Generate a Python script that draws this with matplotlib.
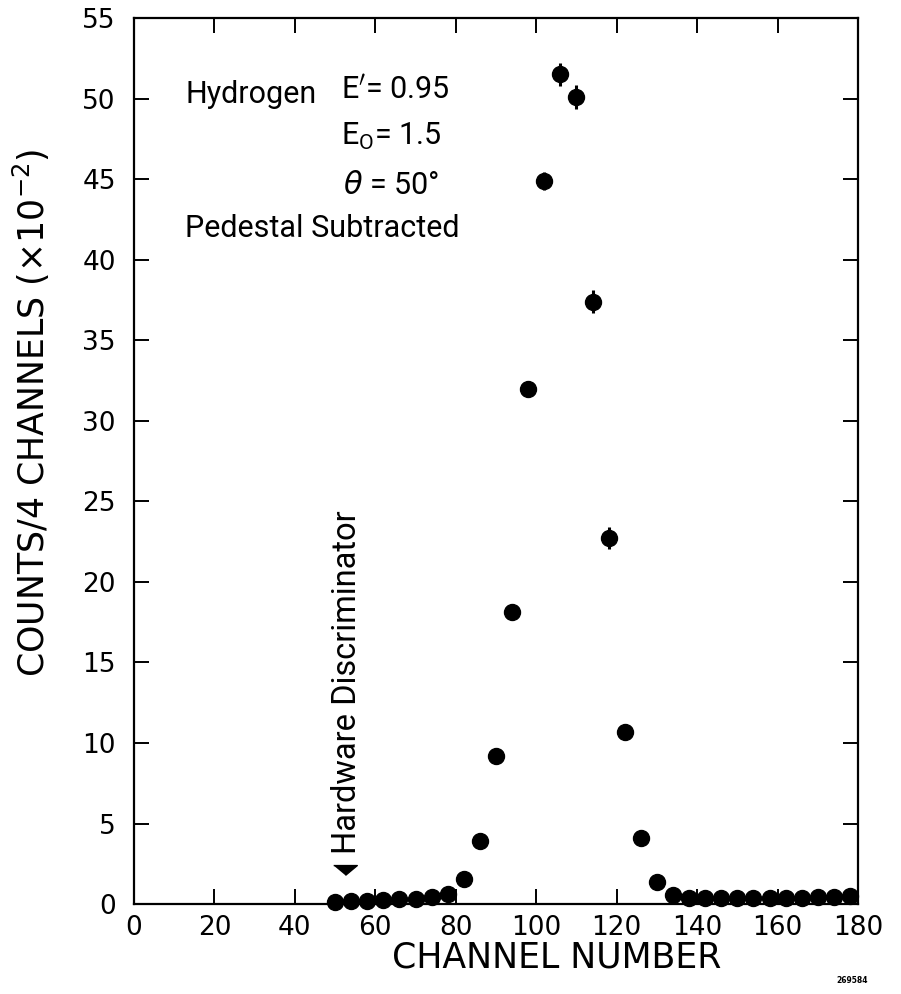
import numpy as np
import matplotlib
matplotlib.use('Agg')
import matplotlib.pyplot as plt

# counts per 4 channels (x 10^-2)
channel = [50, 54, 58, 62, 66, 70, 74, 78, 82, 86, 90, 94, 98, 102, 106, 110,
           114, 118, 122, 126, 130, 134, 138, 142, 146, 150, 154, 158, 162,
           166, 170, 174, 178]
counts = [0.15, 0.2, 0.2, 0.25, 0.3, 0.3, 0.45, 0.65, 1.55, 3.9, 9.2, 18.1,
          32.0, 44.9, 51.5, 50.1, 37.4, 22.7, 10.7, 4.1, 1.35, 0.55, 0.35,
          0.35, 0.35, 0.35, 0.35, 0.35, 0.4, 0.4, 0.45, 0.45, 0.5]
errors = [0.05, 0.05, 0.05, 0.05, 0.05, 0.05, 0.05, 0.1, 0.1, 0.2, 0.3, 0.4,
          0.45, 0.55, 0.72, 0.72, 0.7, 0.68, 0.35, 0.2, 0.1, 0.05, 0.05,
          0.05, 0.05, 0.05, 0.05, 0.05, 0.05, 0.05, 0.05, 0.05, 0.05]

xticks = np.arange(0, 181, 20)
yticks = np.arange(0, 56, 5)

lbl = ['Roboto', 'DejaVu Sans']

plt.rcParams['font.family'] = ['DejaVu Sans']
plt.rcParams['mathtext.fontset'] = 'dejavusans'

fig = plt.figure(figsize=(9.01, 9.94), dpi=100)
ax = fig.add_axes([0.1487, 0.0905, 0.8036, 0.8913])

ax.errorbar(channel, counts, yerr=errors, fmt='o', color='k', ms=11.5,
            elinewidth=2.2, capsize=0, zorder=3, clip_on=False)

ax.set_xlim(0, 180)
ax.set_ylim(0, 55)
ax.set_xticks(xticks)
ax.set_yticks(yticks)
ax.tick_params(direction='in', length=11, width=1.4, top=True, right=True,
               labelsize=19)
ax.tick_params(axis='x', pad=8)
ax.tick_params(axis='y', pad=13)
for s in ax.spines.values():
    s.set_linewidth(1.6)

ax.set_xlabel('CHANNEL NUMBER', fontsize=25)
ax.xaxis.set_label_coords(0.584, -0.041)
ax.set_ylabel(r'COUNTS/4 CHANNELS ($\times$10$^{-2}$)', fontsize=25)
ax.yaxis.label.set_va('center')
ax.yaxis.set_label_coords(-0.141, 0.555)

# annotations
ax.text(12.8, 49.7, 'Hydrogen', fontsize=22, family=lbl, va='baseline')
ax.text(51.5, 50.0, r"E$'$= 0.95", fontsize=22, family=lbl, va='baseline')
ax.text(51.5, 47.1, r'E$_\mathregular{O}$= 1.5', fontsize=22, family=lbl,
        va='baseline')
ax.text(52.0, 44.1, r'$\theta$ = 50°', fontsize=22, family=lbl, va='baseline')
ax.text(12.8, 41.4, 'Pedestal Subtracted', fontsize=22, family=lbl,
        va='baseline')

ax.text(53.0, 3.1, 'Hardware Discriminator', fontsize=23.5, family=lbl,
        rotation=90, ha='center', va='bottom')
arrow = [(-1.2, 0.4), (1.2, 0.4), (0, -0.6)]
ax.plot([52.5], [2.2], marker=arrow, ms=17, color='k', clip_on=False)

fig.text(0.963, 0.011, '269584', fontsize=5.5, weight='bold', ha='right')

fig.savefig('out.png', dpi=100)
